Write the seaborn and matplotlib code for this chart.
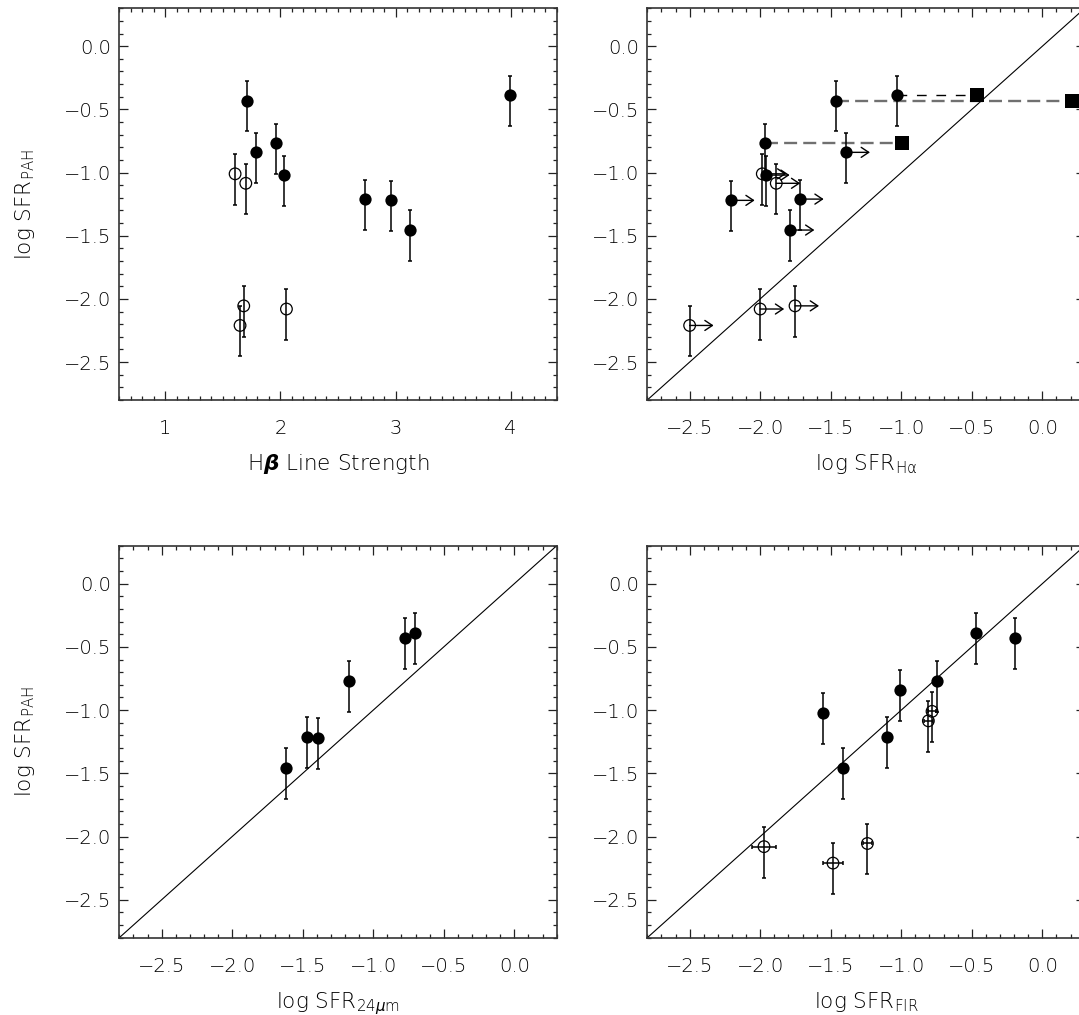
import numpy as np
import pandas as pd
import matplotlib
matplotlib.use("Agg")
import matplotlib.pyplot as plt
from matplotlib.ticker import MultipleLocator
import seaborn as sns

# ---------------------------------------------------------------------------
# Galaxy sample: first eight are detections (filled), last five open symbols
# ---------------------------------------------------------------------------
filled = [True, True, True, True, True, True, True, True,
          False, False, False, False, False]

log_sfr_pah = [-0.43, -0.84, -0.77, -1.02, -1.21, -1.22, -1.455, -0.39,
               -1.01, -1.085, -2.055, -2.21, -2.08]
pah_err_lo = [0.245, 0.245, 0.245, 0.245, 0.245, 0.245, 0.245, 0.245,
              0.245, 0.245, 0.245, 0.245, 0.245]
pah_err_hi = [0.155, 0.155, 0.155, 0.155, 0.155, 0.155, 0.155, 0.155,
              0.155, 0.155, 0.155, 0.155, 0.155]

hbeta_strength = [1.71, 1.79, 1.965, 2.035, 2.736, 2.957, 3.128, 3.99,
                  1.606, 1.699, 1.681, 1.649, 2.052]

log_sfr_ha = [-1.46, -1.392, -1.966, -1.961, -1.72, -2.209, -1.786, -1.028,
              -1.985, -1.886, -1.753, -2.50, -2.00]
ha_lower_limit = [False, True, False, True, True, True, True, False,
                  True, True, True, True, True]
log_sfr_ha_corr = [0.208, np.nan, -0.997, np.nan, np.nan, np.nan, np.nan, -0.461,
                   np.nan, np.nan, np.nan, np.nan, np.nan]

log_sfr_24um = [-0.778, np.nan, -1.175, np.nan, -1.471, -1.395, -1.618, -0.707,
                np.nan, np.nan, np.nan, np.nan, np.nan]

log_sfr_fir = [-0.191, -1.011, -0.749, -1.557, -1.101, np.nan, -1.415, -0.473,
               -0.782, -0.808, -1.24, -1.484, -1.973]
fir_err = [0.0, 0.0, 0.0, 0.0, 0.0, 0.0, 0.0, 0.0,
           0.03, 0.03, 0.03, 0.074, 0.088]

sfr_ticks = [-2.5, -2.0, -1.5, -1.0, -0.5, 0.0]
hbeta_ticks = [1, 2, 3, 4]
sfr_range = [-2.8, 0.3]
hbeta_range = [0.6, 4.4]

df = pd.DataFrame({
    "filled": filled,
    "pah": log_sfr_pah,
    "lo": pah_err_lo,
    "hi": pah_err_hi,
    "hbeta": hbeta_strength,
    "ha": log_sfr_ha,
    "ha_lim": ha_lower_limit,
    "ha_corr": log_sfr_ha_corr,
    "mips24": log_sfr_24um,
    "fir": log_sfr_fir,
    "fir_err": fir_err,
})

# ---------------------------------------------------------------------------
# Style
# ---------------------------------------------------------------------------
sns.set_theme(style="ticks")
plt.rcParams["font.family"] = ["DejaVu Sans"]
plt.rcParams["font.weight"] = "light"
plt.rcParams["axes.labelweight"] = "light"
plt.rcParams["mathtext.fontset"] = "dejavusans"
plt.rcParams["axes.unicode_minus"] = True
for key in ("text.color", "axes.labelcolor", "xtick.labelcolor",
            "ytick.labelcolor"):
    plt.rcParams[key] = "black"

W, H = 1079, 1015
fig = plt.figure(figsize=(W / 100, H / 100), dpi=100)
fig.patch.set_facecolor("white")


def add_axes(left_px, top_px, right_px, bottom_px):
    return fig.add_axes([left_px / W, 1 - bottom_px / H,
                         (right_px - left_px) / W, (bottom_px - top_px) / H])


ax_tl = add_axes(119.3, 8.3, 556.7, 400.0)
ax_tr = add_axes(647.3, 8.3, 1084.7, 400.0)
ax_bl = add_axes(119.3, 545.7, 556.7, 937.7)
ax_br = add_axes(647.3, 545.7, 1084.7, 937.7)

TICK_FS = 14
LABEL_FS = 15.5
AX_W, AX_H = 437.4, 391.7


def style_axes(ax, xticks, xlim, xlabel, ylabel=None):
    ax.set_facecolor("white")
    ax.set_xlim(xlim)
    ax.set_ylim(sfr_range)
    ax.set_xticks(xticks)
    ax.set_yticks(sfr_ticks)
    ax.xaxis.set_minor_locator(MultipleLocator(0.1))
    ax.yaxis.set_minor_locator(MultipleLocator(0.1))
    ax.tick_params(which="both", direction="in", top=True, right=True,
                   color="#222222", width=0.9)
    ax.tick_params(which="major", length=6.5)
    ax.tick_params(which="minor", length=3.2)
    ax.tick_params(axis="x", which="major", pad=14, labelsize=TICK_FS)
    ax.tick_params(axis="y", which="major", pad=6, labelsize=TICK_FS)
    for sp in ax.spines.values():
        sp.set_visible(True)
        sp.set_linewidth(1.2)
        sp.set_color("#333333")
    ax.set_xlabel(xlabel, fontsize=LABEL_FS, va="top", fontweight="light")
    ax.xaxis.set_label_coords(0.5, -52.0 / AX_H)
    if ylabel:
        ax.set_ylabel(ylabel, fontsize=LABEL_FS, fontweight="light")
        ax.yaxis.set_label_coords(-82.0 / AX_W, 0.5)
    else:
        ax.set_ylabel("")
    ax.grid(False)


def draw_points(ax, xcol, xerr_col=None):
    sub = df[df[xcol].notna()]
    xerr = None
    if xerr_col is not None:
        xerr = sub[xerr_col].where(sub[xerr_col] > 0, np.nan).values
    ax.errorbar(sub[xcol], sub["pah"], yerr=[sub["lo"], sub["hi"]],
                xerr=xerr, fmt="none", ecolor="black", elinewidth=1.1,
                capsize=1.6, capthick=1.1, zorder=2)
    solid = sub[sub["filled"]]
    hollow = sub[~sub["filled"]]
    sns.scatterplot(data=solid, x=xcol, y="pah", ax=ax, color="black",
                    edgecolor="black", linewidth=0, s=78, legend=False,
                    zorder=3)
    if len(hollow):
        sns.scatterplot(data=hollow, x=xcol, y="pah", ax=ax, color="black",
                        facecolor="none", edgecolor="black", linewidth=0.9,
                        s=70, legend=False, zorder=3)


def one_to_one(ax):
    ax.plot(sfr_range, sfr_range, color="black", lw=0.8, zorder=1)


# --- Top left: PAH SFR against Hbeta line strength -------------------------
draw_points(ax_tl, "hbeta")
style_axes(ax_tl, hbeta_ticks, hbeta_range,
           r"H$\boldsymbol{\beta}$ Line Strength", r"log SFR$_{\rm PAH}$")

# --- Top right: PAH SFR against Halpha SFR ---------------------------------
one_to_one(ax_tr)
corr = df[df["ha_corr"].notna()]
for _, row in corr.iterrows():
    if row["pah"] > -0.41:
        ax_tr.plot([row["ha"], row["ha_corr"]], [row["pah"], row["pah"]],
                   color="black", lw=1.0, ls=(0, (7, 7)), zorder=1.5)
    else:
        ax_tr.plot([row["ha"], row["ha_corr"]], [row["pah"], row["pah"]],
                   color="#707070", lw=1.7, ls=(0, (5.5, 2.6)), zorder=1.5)
draw_points(ax_tr, "ha")
sns.scatterplot(data=corr, x="ha_corr", y="pah", ax=ax_tr, color="black",
                marker="s", edgecolor="black", linewidth=0, s=95,
                legend=False, zorder=3)
for _, row in df[df["ha_lim"]].iterrows():
    ax_tr.annotate("", xy=(row["ha"] + 0.17, row["pah"]),
                   xytext=(row["ha"], row["pah"]),
                   arrowprops=dict(arrowstyle="->,head_length=0.45,head_width=0.3",
                                   color="black", lw=1.0, shrinkA=0, shrinkB=0,
                                   mutation_scale=12),
                   zorder=2.5)
style_axes(ax_tr, sfr_ticks, sfr_range, r"log SFR$_{\rm H\alpha}$")

# --- Bottom left: PAH SFR against 24 micron SFR ----------------------------
one_to_one(ax_bl)
draw_points(ax_bl, "mips24")
style_axes(ax_bl, sfr_ticks, sfr_range, r"log SFR$_{24\mu\rm m}$",
           r"log SFR$_{\rm PAH}$")

# --- Bottom right: PAH SFR against far-infrared SFR ------------------------
one_to_one(ax_br)
draw_points(ax_br, "fir", xerr_col="fir_err")
style_axes(ax_br, sfr_ticks, sfr_range, r"log SFR$_{\rm FIR}$")

fig.savefig("out.png", dpi=100, facecolor="white")
